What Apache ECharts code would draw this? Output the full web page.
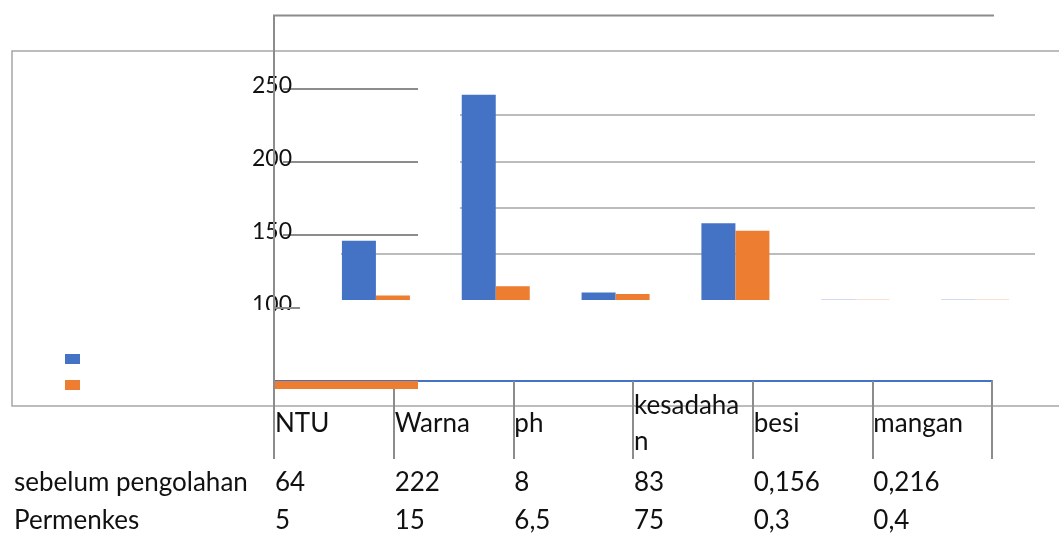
<!DOCTYPE html>
<html>
<head>
<meta charset="utf-8">
<script src="https://cdn.jsdelivr.net/npm/echarts@6/dist/echarts.min.js"></script>
<style>
  html, body { margin: 0; padding: 0; background: #fff; }
  #chart { width: 1059px; height: 533px; }
</style>
</head>
<body>
<div id="chart"></div>
<script>
  const categories = ['NTU', 'Warna', 'ph', 'kesadahan', 'besi', 'mangan'];
  const categoryLabels = ['NTU', 'Warna', 'ph', 'kesadaha\nn', 'besi', 'mangan'];
  const seriesNames = ['sebelum pengolahan', 'Permenkes'];
  const sebelumPengolahan = [64, 222, 8, 83, 0.156, 0.216];
  const permenkes = [5, 15, 6.5, 75, 0.3, 0.4];
  const leftAxisRange = [100, 250, 50];
  const barAxisRange = [0, 200, 50];

  const blue = '#4472C4';
  const orange = '#ED7D31';
  const gray = '#8c8c8c';
  const font = 'Lato';
  const tableFontSize = 26;

  // angka pakai koma desimal
  const fmt = v => String(v).replace('.', ',');

  const tableAxis = (labels, margin, extra) => Object.assign({
    type: 'category',
    gridIndex: 2,
    position: 'bottom',
    data: categories.concat(['']),
    boundaryGap: false,
    axisLine: { show: false, onZero: false },
    axisTick: { show: false },
    splitLine: { show: false },
    axisLabel: {
      interval: 0,
      align: 'left',
      verticalAlign: 'middle',
      margin: margin,
      padding: [0, 0, 0, 1],
      lineHeight: 36,
      fontFamily: font,
      fontSize: tableFontSize,
      color: '#111',
      formatter: (v, i) => labels[i] !== undefined ? labels[i] : ''
    }
  }, extra || {});

  const chart = echarts.init(document.getElementById('chart'));
  chart.setOption({
    animation: false,
    color: [blue, orange],
    legend: {
      data: seriesNames,
      orient: 'vertical',
      left: 60,
      top: 349,
      itemWidth: 15,
      itemHeight: 10,
      itemGap: 16,
      icon: 'rect',
      formatter: () => '',
      textStyle: { fontSize: 10, lineHeight: 10 }
    },
    grid: [
      { left: 283, right: 641, top: 89, bottom: 225, outerBoundsMode: 'none' },
      { left: 316, right: 24, top: 115, bottom: 233, outerBoundsMode: 'none' },
      { left: 274, right: 67, top: 330, bottom: 152, outerBoundsMode: 'none' }
    ],
    xAxis: [
      { type: 'value', gridIndex: 0, show: false },
      { type: 'category', gridIndex: 1, data: categories, show: false },
      tableAxis(categoryLabels, 43, {
        axisLine: { show: true, onZero: false, lineStyle: { color: blue, width: 2 } },
        axisTick: { show: true, interval: 0, length: 78, lineStyle: { color: gray, width: 2 } }
      }),
      tableAxis(sebelumPengolahan.map(fmt), 102),
      tableAxis(permenkes.map(fmt), 140)
    ],
    yAxis: [
      {
        type: 'value', gridIndex: 0, z: 3,
        min: leftAxisRange[0], max: leftAxisRange[1], interval: leftAxisRange[2],
        axisLine: { show: false }, axisTick: { show: false },
        splitLine: { show: true, showMinLine: false, lineStyle: { color: gray, width: 2 } },
        axisLabel: { margin: -9, verticalAlign: 'bottom', lineHeight: 7, fontFamily: font, fontSize: 23, color: '#111' }
      },
      {
        type: 'value', gridIndex: 1,
        min: barAxisRange[0], max: barAxisRange[1], interval: barAxisRange[2],
        axisLine: { show: false }, axisTick: { show: false }, axisLabel: { show: false },
        splitLine: { show: true, showMinLine: false, lineStyle: { color: '#a6a6a6', width: 1.5 } }
      },
      { type: 'value', gridIndex: 2, show: false }
    ],
    series: [
      {
        name: seriesNames[0], type: 'bar', xAxisIndex: 1, yAxisIndex: 1,
        data: sebelumPengolahan, barWidth: 34, barGap: 0, clip: false
      },
      {
        name: seriesNames[1], type: 'bar', xAxisIndex: 1, yAxisIndex: 1,
        data: permenkes, barWidth: 34, barGap: 0, clip: false
      }
    ],
    graphic: [
      { type: 'rect', z: 0, shape: { x: 12, y: 51, width: 1070, height: 355 },
        style: { fill: 'none', stroke: '#a6a6a6', lineWidth: 1.5 } },
      { type: 'rect', z: 1, shape: { x: 300, y: 105, width: 160, height: 110 }, style: { fill: '#fff' } },
      { type: 'rect', z: 1, shape: { x: 300, y: 245, width: 41, height: 18 }, style: { fill: '#fff' } },
      { type: 'rect', z: 5, shape: { x: 274, y: 381, width: 144, height: 8 }, style: { fill: orange } },
      { type: 'line', z: 5, shape: { x1: 274, y1: 308, x2: 300, y2: 308 }, style: { stroke: gray, lineWidth: 2 } },
      // potongan label 100 seperti di gambar asli
      { type: 'rect', z: 10, shape: { x: 248, y: 310, width: 25, height: 16 }, style: { fill: '#fff' } },
      { type: 'rect', z: 10, shape: { x: 276, y: 310, width: 24, height: 16 }, style: { fill: '#fff' } },
      { type: 'polyline', z: 11, shape: { points: [[274, 459], [274, 15.5], [994, 15.5]] },
        style: { fill: 'none', stroke: gray, lineWidth: 2 } },
      { type: 'text', z: 5, x: 14, y: 483,
        style: { text: seriesNames[0], fontFamily: font, fontSize: tableFontSize, fill: '#111', verticalAlign: 'middle' } },
      { type: 'text', z: 5, x: 14, y: 521,
        style: { text: seriesNames[1], fontFamily: font, fontSize: tableFontSize, fill: '#111', verticalAlign: 'middle' } }
    ]
  });
</script>
</body>
</html>
